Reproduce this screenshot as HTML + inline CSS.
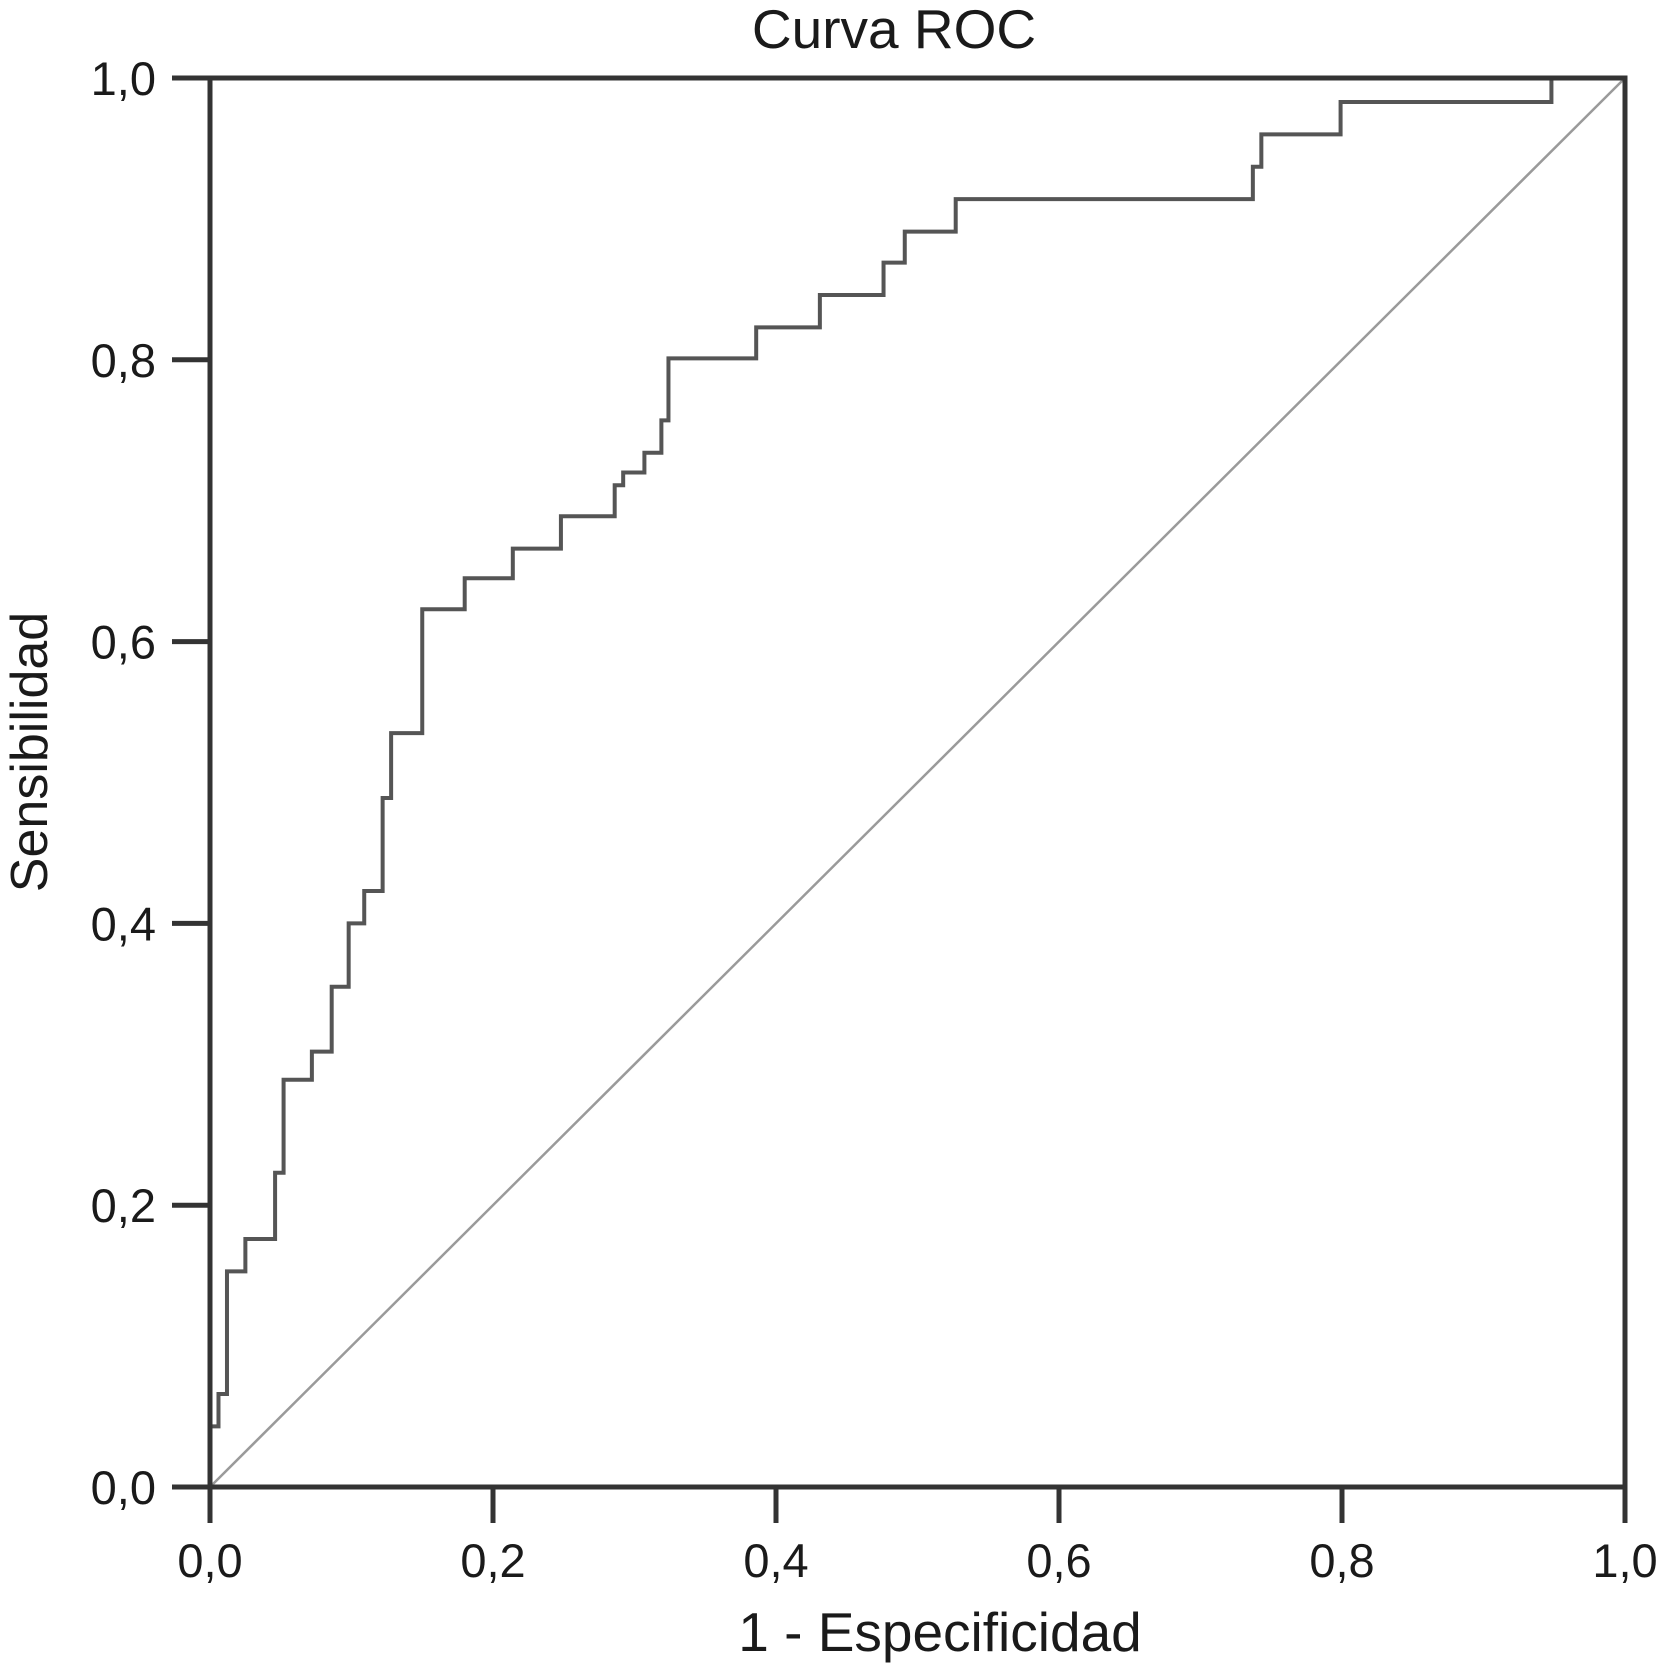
<!DOCTYPE html>
<html><head><meta charset="utf-8"><style>
html,body{margin:0;padding:0;background:#fff;}
svg{display:block;font-family:"Liberation Sans",Arial,sans-serif;}
</style></head><body>
<svg id="chart" width="1660" height="1675" viewBox="0 0 1660 1675" xmlns="http://www.w3.org/2000/svg">
<rect width="1660" height="1675" fill="#fff"/>
<text x="894" y="48" font-size="55" text-anchor="middle" fill="#1a1a1a">Curva ROC</text>
<text x="940" y="1651" font-size="55" text-anchor="middle" fill="#1a1a1a">1 - Especificidad</text>
<text transform="translate(47,752) rotate(-90)" font-size="52" text-anchor="middle" fill="#1a1a1a">Sensibilidad</text>
<g id="plot"></g>
</svg>
<script>
const xTicks = [0, 0.2, 0.4, 0.6, 0.8, 1.0];
const yTicks = [0, 0.2, 0.4, 0.6, 0.8, 1.0];
const tickLabels = ["0,0", "0,2", "0,4", "0,6", "0,8", "1,0"];
const fpr = [0,0.006,0.012,0.025,0.046,0.052,0.072,0.086,0.098,0.109,0.122,0.128,0.150,0.180,0.214,0.248,0.286,0.292,0.307,0.319,0.324,0.386,0.431,0.476,0.491,0.527,0.737,0.743,0.799,0.948];
const tpr = [0.043,0.066,0.153,0.176,0.223,0.289,0.309,0.355,0.400,0.423,0.489,0.535,0.623,0.645,0.666,0.689,0.711,0.720,0.734,0.757,0.801,0.823,0.846,0.869,0.891,0.914,0.937,0.960,0.983,1.0];

const X0 = 210, X1 = 1625, Y0 = 1487, Y1 = 78;
function sx(v){ return X0 + v * (X1 - X0); }
function sy(v){ return Y0 - v * (Y0 - Y1); }
const NS = "http://www.w3.org/2000/svg";
const g = document.getElementById('plot');
function mk(tag, attrs){ const e = document.createElementNS(NS, tag); for (const k in attrs) e.setAttribute(k, attrs[k]); g.appendChild(e); return e; }

const diag = mk('line', {x1: sx(0), y1: sy(0), x2: sx(1), y2: sy(1), stroke: '#9a9a9a', 'stroke-width': 2.5});



let d = 'M' + sx(0) + ',' + sy(0);
for (let i = 0; i < fpr.length; i++) {
  d += ' H' + sx(fpr[i]) + ' V' + sy(tpr[i]);
}
d += ' H' + sx(1);
const curve = mk('path', {d: d, fill: 'none', stroke: '#555', 'stroke-width': 4});



const frame = mk('rect', {x: X0, y: Y1, width: X1 - X0, height: Y0 - Y1, fill: 'none', stroke: '#333', 'stroke-width': 5});



xTicks.forEach((v, i) => {
  const t = mk('line', {x1: sx(v), y1: Y0, x2: sx(v), y2: Y0 + 36, stroke: '#333', 'stroke-width': 5});
  
  
  const l = mk('text', {x: sx(v), y: 1577, 'font-size': 47, 'text-anchor': 'middle', fill: '#1a1a1a'});
  l.textContent = tickLabels[i];
  
  
});
yTicks.forEach((v, i) => {
  const t = mk('line', {x1: X0 - 38, y1: sy(v), x2: X0, y2: sy(v), stroke: '#333', 'stroke-width': 5});
  
  
  const l = mk('text', {x: 156, y: sy(v) + 17, 'font-size': 47, 'text-anchor': 'end', fill: '#1a1a1a'});
  l.textContent = tickLabels[i];
  
  
});
</script>
</body></html>
